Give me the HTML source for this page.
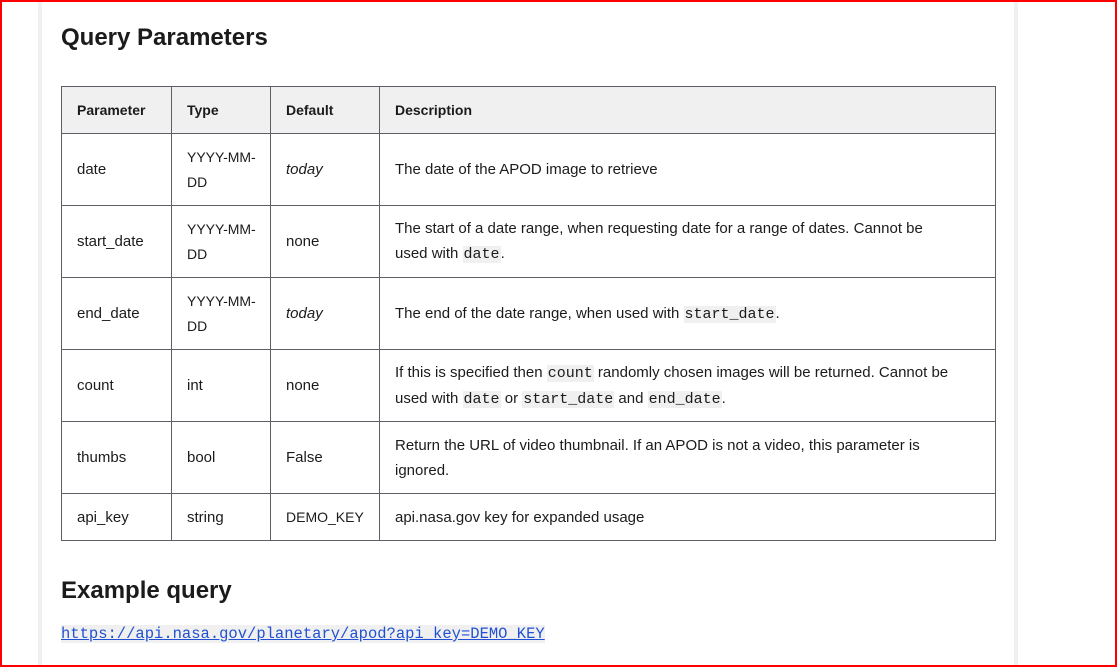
<!DOCTYPE html>
<html><head><meta charset="utf-8"><style>
body{margin:0;width:1117px;height:667px;overflow:hidden;background:#fff;font-family:"Liberation Sans",sans-serif;color:#1b1b1b;position:relative}
.frame{position:absolute;left:0;top:0;width:1113px;height:663px;border:2px solid #f00}
.bar{position:absolute;top:2px;bottom:2px;width:4px;background:#f0f0f0}
h2{position:absolute;left:61px;margin:0;font-size:24px;font-weight:bold;color:#1b1b1b}
table{position:absolute;left:61px;top:86px;border-collapse:collapse;font-size:15px;table-layout:fixed;width:934px}
td,th{border:1px solid #5c5f66;padding:0 0 0 15px;text-align:left;vertical-align:middle;line-height:25px;overflow:hidden;white-space:nowrap}
th{background:#f0f0f0;height:46px;font-weight:bold;font-size:14px}
td{height:71px}
tr.last td{height:46px}
code{font-family:"Liberation Mono",monospace;font-size:15px;background:#f0f0f0;padding:0 1px}
a{position:absolute;left:61px;top:625px;font-family:"Liberation Mono",monospace;font-size:15.5px;color:#2151d2;background:#f0f0f0;white-space:nowrap;text-decoration:underline}
.t{font-size:14px}
</style></head><body>
<div class="frame"></div>
<div class="bar" style="left:38px"></div>
<div class="bar" style="left:1014px"></div>
<h2 style="top:24px">Query Parameters</h2>
<table>
<colgroup><col style="width:110px"><col style="width:99px"><col style="width:109px"><col style="width:616px"></colgroup>
<tr><th>Parameter</th><th>Type</th><th>Default</th><th>Description</th></tr>
<tr><td>date</td><td class="t">YYYY-MM-<br>DD</td><td><i>today</i></td><td>The date of the APOD image to retrieve</td></tr>
<tr><td>start_date</td><td class="t">YYYY-MM-<br>DD</td><td>none</td><td>The start of a date range, when requesting date for a range of dates. Cannot be<br>used with <code>date</code>.</td></tr>
<tr><td>end_date</td><td class="t">YYYY-MM-<br>DD</td><td><i>today</i></td><td>The end of the date range, when used with <code>start_date</code>.</td></tr>
<tr><td>count</td><td>int</td><td>none</td><td>If this is specified then <code>count</code> randomly chosen images will be returned. Cannot be<br>used with <code>date</code> or <code>start_date</code> and <code>end_date</code>.</td></tr>
<tr><td>thumbs</td><td>bool</td><td>False</td><td>Return the URL of video thumbnail. If an APOD is not a video, this parameter is<br>ignored.</td></tr>
<tr class="last"><td>api_key</td><td>string</td><td class="t">DEMO_KEY</td><td>api.nasa.gov key for expanded usage</td></tr>
</table>
<h2 style="top:577px">Example query</h2>
<a>https://api.nasa.gov/planetary/apod?api_key=DEMO_KEY</a>
</body></html>
